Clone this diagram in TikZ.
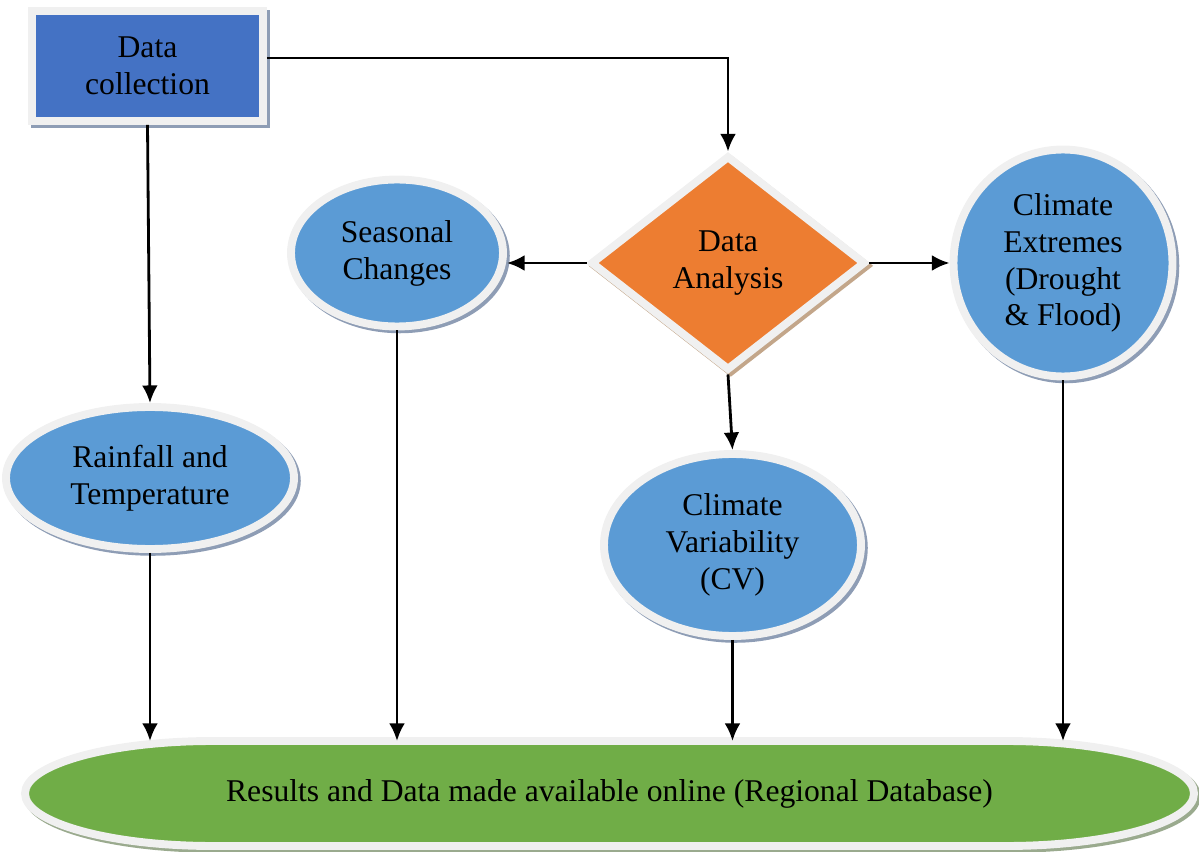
\documentclass[tikz,border=0pt]{standalone}
\usepackage{fontspec}
\setmainfont{Liberation Serif}
\usetikzlibrary{shapes.geometric,shadows,backgrounds,arrows.meta}
\definecolor{boxblue}{HTML}{4472C4}
\definecolor{ovalblue}{HTML}{5B9BD5}
\definecolor{diaorange}{HTML}{ED7D31}
\definecolor{resgreen}{HTML}{70AD47}
\definecolor{rim}{HTML}{F0F0F0}
\definecolor{shblue}{HTML}{8E9DB5}
\definecolor{shbrown}{HTML}{C3A68A}
\definecolor{shgreen}{HTML}{9AAA8E}

\begin{document}
\begin{tikzpicture}[>={Latex[length=10pt,width=9pt]},
  every node/.style={draw=rim,line width=4.5pt,align=center,inner sep=0pt,
                     font=\fontsize{18}{21}\selectfont},
  sh/.style={drop shadow={shadow xshift=1.6pt,shadow yshift=-1.6pt,
                          fill=#1,draw=#1,line width=4.5pt,opacity=1}},
  oval/.style={ellipse,fill=ovalblue,sh=shblue},
  link/.style={->,line width=1.6pt}]
\useasboundingbox (0,0) rectangle (23.98,-17.04);
\node[fill=boxblue,minimum width=4.62cm,minimum height=2.2cm,sh=shblue]
                      (dc) at (2.95,-1.32)  {Data\\collection};
\node[diamond,fill=diaorange,minimum width=5.5cm,minimum height=4.3cm,sh=shbrown]
                      (da) at (14.56,-5.26) {Data\\Analysis};
\node[oval,minimum width=4.24cm,minimum height=2.94cm]
                      (sc) at (7.94,-5.06)  {Seasonal\\Changes};
\node[oval,minimum width=4.38cm,minimum height=4.54cm]
                      (ce) at (21.26,-5.26) {Climate\\Extremes\\(Drought\\\& Flood)};
\node[oval,minimum width=5.76cm,minimum height=2.84cm]
                      (rt) at (3.0,-9.56)   {Rainfall and\\Temperature};
\node[oval,minimum width=5.14cm,minimum height=3.64cm]
                      (cv) at (14.65,-10.9) {Climate\\Variability\\(CV)};
\node[draw=none,outer sep=0pt,minimum width=23.38cm,minimum height=2.1cm]
                      (res) at (12.19,-15.87) {Results and Data made available online (Regional Database)};
\begin{scope}[on background layer]
\draw[draw=rim,line width=4.5pt,fill=resgreen,sh=shgreen]
  ([xshift=3.76cm]res.north west) -- ([xshift=-3.76cm]res.north east)
  arc[start angle=90,end angle=-90,x radius=3.76cm,y radius=1.05cm]
  -- ([xshift=3.76cm]res.south west)
  arc[start angle=-90,end angle=-270,x radius=3.76cm,y radius=1.05cm] -- cycle;
\end{scope}
\draw[link] ([yshift=0.16cm]dc.east) -| (da.north);
\draw[link] (dc.south) -- (rt.north);
\draw[link] (da.west)  -- (da.west -| sc.east);
\draw[link] (da.east)  -- (ce.west);
\draw[link] (da.south) -- (cv.north);
\draw[link] (rt.south) -- (rt.south |- res.north);
\draw[link] (sc.south) -- (sc.south |- res.north);
\draw[link] (cv.south) -- (cv.south |- res.north);
\draw[link] (ce.south) -- (ce.south |- res.north);
\end{tikzpicture}
\end{document}
